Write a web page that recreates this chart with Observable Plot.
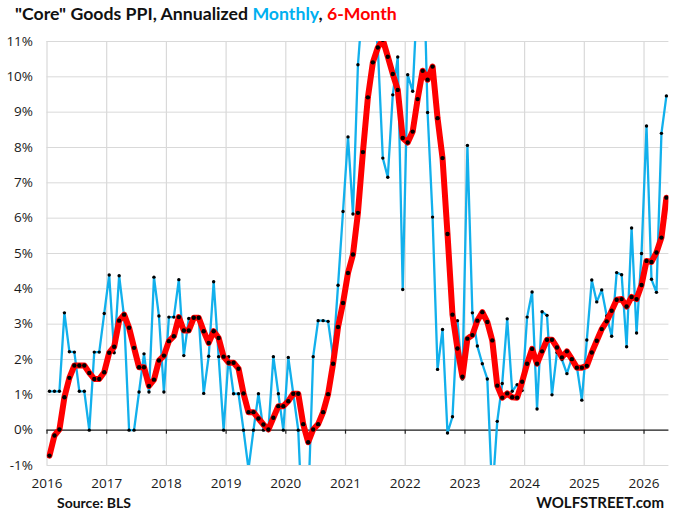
<!DOCTYPE html>
<html>
<head>
<meta charset="utf-8">
<script src="https://cdn.jsdelivr.net/npm/d3@7"></script>
<script src="https://cdn.jsdelivr.net/npm/@observablehq/plot@0.6"></script>
<style>
  html, body { margin: 0; padding: 0; background: #fff; }
  #wrap { position: relative; width: 680px; height: 513px; overflow: hidden; }
  #chart { position: absolute; left: 0; top: 0; }
  .t { position: absolute; white-space: nowrap; line-height: 1; font-family: Lato, "Open Sans", sans-serif; font-weight: 700; color: #111; }
</style>
</head>
<body>
<div id="wrap">
  <div id="chart"></div>
  <div class="t" id="title" style="left:15px; top:4.5px; font-size:17.7px;">"Core" Goods PPI, Annualized <span style="color:#00B0F0">Monthly</span>, <span style="color:#FF0000">6-Month</span></div>
  <div class="t" id="src" style="left:57px; top:495.5px; font-size:14px;">Source: BLS</div>
  <div class="t" id="ws" style="right:16px; top:495px; font-size:15px;">WOLFSTREET.com</div>
</div>
<script>
// First month of the series and monthly values (Jan 2016 .. May 2026)
const startYear = 2016;
const monthly = [
  1.1, 1.1, 1.1, 3.32, 2.22, 2.21, 1.1, 1.1, 0, 2.21, 2.21, 3.3,          // 2016
  4.39, 2.19, 4.37, 3.2, 0, 0, 1.08, 2.16, 1.08, 4.33, 3.23, 1.08,        // 2017
  3.2, 3.2, 4.26, 2.11, 3.16, 3.18, 3.18, 1.04, 2.09, 4.2, 2.08, 0,       // 2018
  2.08, 1.03, 1.03, 0, -1.1, 0, 1.03, 0, 0, 2.08, 1.03, 0,                // 2019
  2.06, 1.03, 0, -3.2, -2.1, 2.08, 3.1, 3.1, 3.08, 2.07, 4.1, 6.19,       // 2020
  8.3, 6.12, 10.34, 12.2, 13.4, 12.1, 10.8, 7.7, 7.16, 9.49, 10.56, 3.98, // 2021
  10.06, 9.59, 12.5, 14.3, 8.99, 6.03, 1.72, 2.85, -0.08, 0.38, 3.1, 1.45,// 2022
  8.06, 3.32, 2.38, 1.88, 1.45, -1.85, 0.25, 1.32, 3.15, 1.1, 1.29, 1.12, // 2023
  3.2, 3.91, 0.6, 3.35, 3.25, 1.0, 2.2, 2.0, 1.6, 2.05, 1.8, 0.85,        // 2024
  2.55, 4.25, 3.63, 3.97, 3.23, 2.66, 4.46, 4.4, 2.36, 5.72, 2.75, 5.0,   // 2025
  8.61, 4.27, 3.9, 8.4, 9.46                                              // 2026
];
const sixMonth = [
  -0.72, -0.15, 0.02, 0.93, 1.48, 1.83, 1.83, 1.83, 1.62, 1.45, 1.45, 1.64,
  2.19, 2.36, 3.1, 3.27, 2.9, 2.33, 1.78, 1.78, 1.25, 1.43, 1.97, 2.11,
  2.52, 2.66, 3.2, 2.82, 2.82, 3.18, 3.18, 2.8, 2.47, 2.8, 2.61, 2.08,
  1.91, 1.91, 1.74, 1.04, 0.51, 0.51, 0.33, 0.16, 0.02, 0.35, 0.68, 0.68,
  0.82, 1.03, 1.03, 0.17, -0.34, 0.02, 0.17, 0.51, 1.02, 1.88, 2.92, 3.6,
  4.45, 4.97, 6.15, 7.87, 9.42, 10.41, 10.83, 11.05, 10.57, 10.08, 9.63, 8.27,
  8.14, 8.45, 9.37, 10.17, 9.92, 10.29, 8.83, 7.7, 5.55, 3.27, 2.31, 1.51,
  2.59, 2.69, 3.1, 3.34, 3.06, 2.54, 1.26, 0.92, 1.04, 0.93, 0.92, 1.37,
  1.88, 2.3, 1.88, 2.23, 2.56, 2.56, 2.34, 2.06, 2.23, 2.01, 1.77, 1.77,
  1.82, 2.2, 2.53, 2.86, 3.08, 3.38, 3.69, 3.71, 3.5, 3.77, 3.71, 4.11,
  4.79, 4.76, 5.03, 5.45, 6.58
];
const yearTicks = [2016, 2017, 2018, 2019, 2020, 2021, 2022, 2023, 2024, 2025, 2026];
const pctTicks = [-1, 0, 1, 2, 3, 4, 5, 6, 7, 8, 9, 10, 11];

// each month is a category centred in its slot on the year axis
const data = monthly.map((m, i) => ({
  t: startYear + (i + 0.5) / 12,
  monthly: m,
  sixMonth: sixMonth[i]
}));
const xEnd = startYear + monthly.length / 12;

const chart = Plot.plot({
  width: 680,
  height: 513,
  marginTop: 41,
  marginBottom: 48,
  marginLeft: 46.5,
  marginRight: 11.6,
  style: { fontFamily: "'Open Sans', sans-serif", fontSize: "13.5px", color: "#1a1a1a", background: "#fff" },
  x: { domain: [startYear, xEnd] },
  y: { domain: [-1, 11] },
  marks: [
    Plot.gridY(pctTicks, { stroke: "#d9d9d9", strokeOpacity: 1, strokeWidth: 1 }),
    Plot.gridX(yearTicks, { stroke: "#d9d9d9", strokeOpacity: 1, strokeWidth: 1.2 }),
    Plot.ruleY([0], { stroke: "#222", strokeWidth: 1.3 }),
    Plot.ruleX(yearTicks, { x: d => d, y1: 0, y2: 0, insetBottom: -4, stroke: "#222", strokeWidth: 1.2 }),
    Plot.axisX(yearTicks, { tickSize: 0, tickPadding: 13, tickFormat: d => String(d), label: null, fill: "#1a1a1a" }),
    Plot.axisY(pctTicks, { tickSize: 0, tickPadding: 14, tickFormat: d => d + "%", label: null, fill: "#1a1a1a" }),
    Plot.line(data, { x: "t", y: "monthly", stroke: "#12B0EC", strokeWidth: 2.3, strokeLinejoin: "round", clip: true }),
    Plot.dot(data, { x: "t", y: "monthly", r: 1.7, fill: "#000", stroke: "none", clip: true }),
    Plot.line(data, { x: "t", y: "sixMonth", stroke: "#FF0000", strokeWidth: 6, strokeLinejoin: "round", strokeLinecap: "round", clip: true }),
    Plot.dot(data, { x: "t", y: "sixMonth", r: 2.2, fill: "#000", stroke: "none", clip: true })
  ]
});
document.getElementById("chart").appendChild(chart);
</script>
</body>
</html>
